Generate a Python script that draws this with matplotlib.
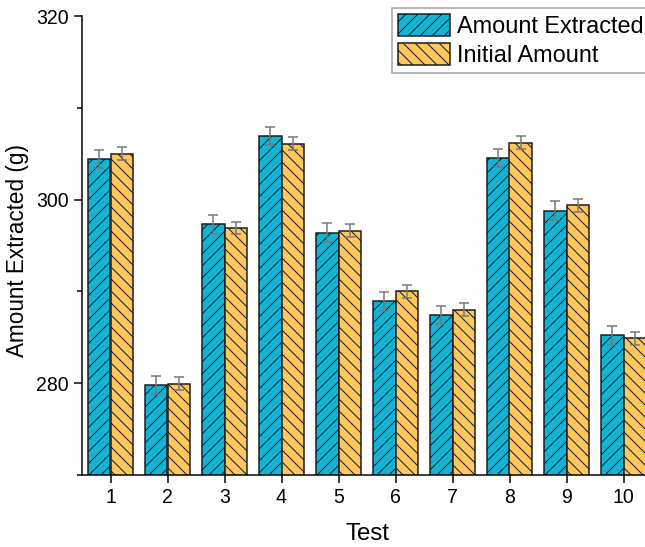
"""Extraction test results: extracted vs initial amount per test, with error bars."""

import numpy as np
import matplotlib.pyplot as plt
from matplotlib.ticker import MultipleLocator

plt.rcParams["font.family"] = ["Liberation Sans", "DejaVu Sans"]
plt.rcParams["hatch.linewidth"] = 1.0
plt.rcParams["hatch.color"] = "#1a1a1a"

tests = [1, 2, 3, 4, 5, 6, 7, 8, 9, 10]
extracted = [304.4, 279.8, 297.3, 306.9, 296.4, 288.9, 287.4, 304.5, 298.8, 285.2]
extracted_err = [1.0, 1.0, 1.0, 1.0, 1.0, 1.0, 1.0, 1.0, 1.0, 1.0]
initial = [305.0, 279.95, 296.9, 306.1, 296.6, 290.0, 288.0, 306.2, 299.4, 284.9]
initial_err = [0.7, 0.7, 0.7, 0.7, 0.7, 0.7, 0.7, 0.7, 0.7, 0.7]

BLUE = "#12B4D6"
ORANGE = "#FFC75A"
BAR_W = 0.4

fig = plt.figure(figsize=(645 / 72, 547 / 72), dpi=72)
ax = fig.add_axes([82 / 645, 72 / 547, 570 / 645, 459 / 547])

x = np.array(tests)
err_style = dict(ecolor="#777777", elinewidth=1.5, capsize=5, capthick=1.5)
ax.bar(x - BAR_W / 2, extracted, BAR_W, yerr=extracted_err, color=BLUE,
       edgecolor="#1a1a1a", linewidth=1.5, hatch="//", label="Amount Extracted",
       error_kw=err_style, zorder=2)
ax.bar(x + BAR_W / 2, initial, BAR_W, yerr=initial_err, color=ORANGE,
       edgecolor="#1a1a1a", linewidth=1.5, hatch="\\\\", label="Initial Amount",
       error_kw=err_style, zorder=2)

ax.set_xlim(0.5, 10.5)
ax.set_ylim(270, 320)
ax.set_xticks(tests)
ax.yaxis.set_minor_locator(MultipleLocator(10))
ax.set_yticks([280, 300, 320])

for side in ("top", "right"):
    ax.spines[side].set_visible(False)
for side in ("left", "bottom"):
    ax.spines[side].set_linewidth(1.5)

ax.tick_params(axis="both", which="major", direction="out", length=8, width=1.5,
               labelsize=19.5, pad=5)
ax.tick_params(axis="y", which="minor", direction="out", length=5, width=1.5)
ax.tick_params(axis="x", which="minor", bottom=False)

ax.set_xlabel("Test", fontsize=24, labelpad=16)
ax.set_ylabel("Amount Extracted (g)", fontsize=22.5)
ax.yaxis.set_label_coords(-0.093, 0.49)

leg = ax.legend(loc="upper left", bbox_to_anchor=(392 / 645, 539 / 547),
                bbox_transform=fig.transFigure, borderaxespad=0, fontsize=23.5,
                frameon=True, fancybox=False, edgecolor="#888888",
                handlelength=2.2, handleheight=1.05, handletextpad=0.33,
                labelspacing=0.22, borderpad=0.25)
leg.get_frame().set_linewidth(1.5)

fig.savefig("out.png", dpi=72)
